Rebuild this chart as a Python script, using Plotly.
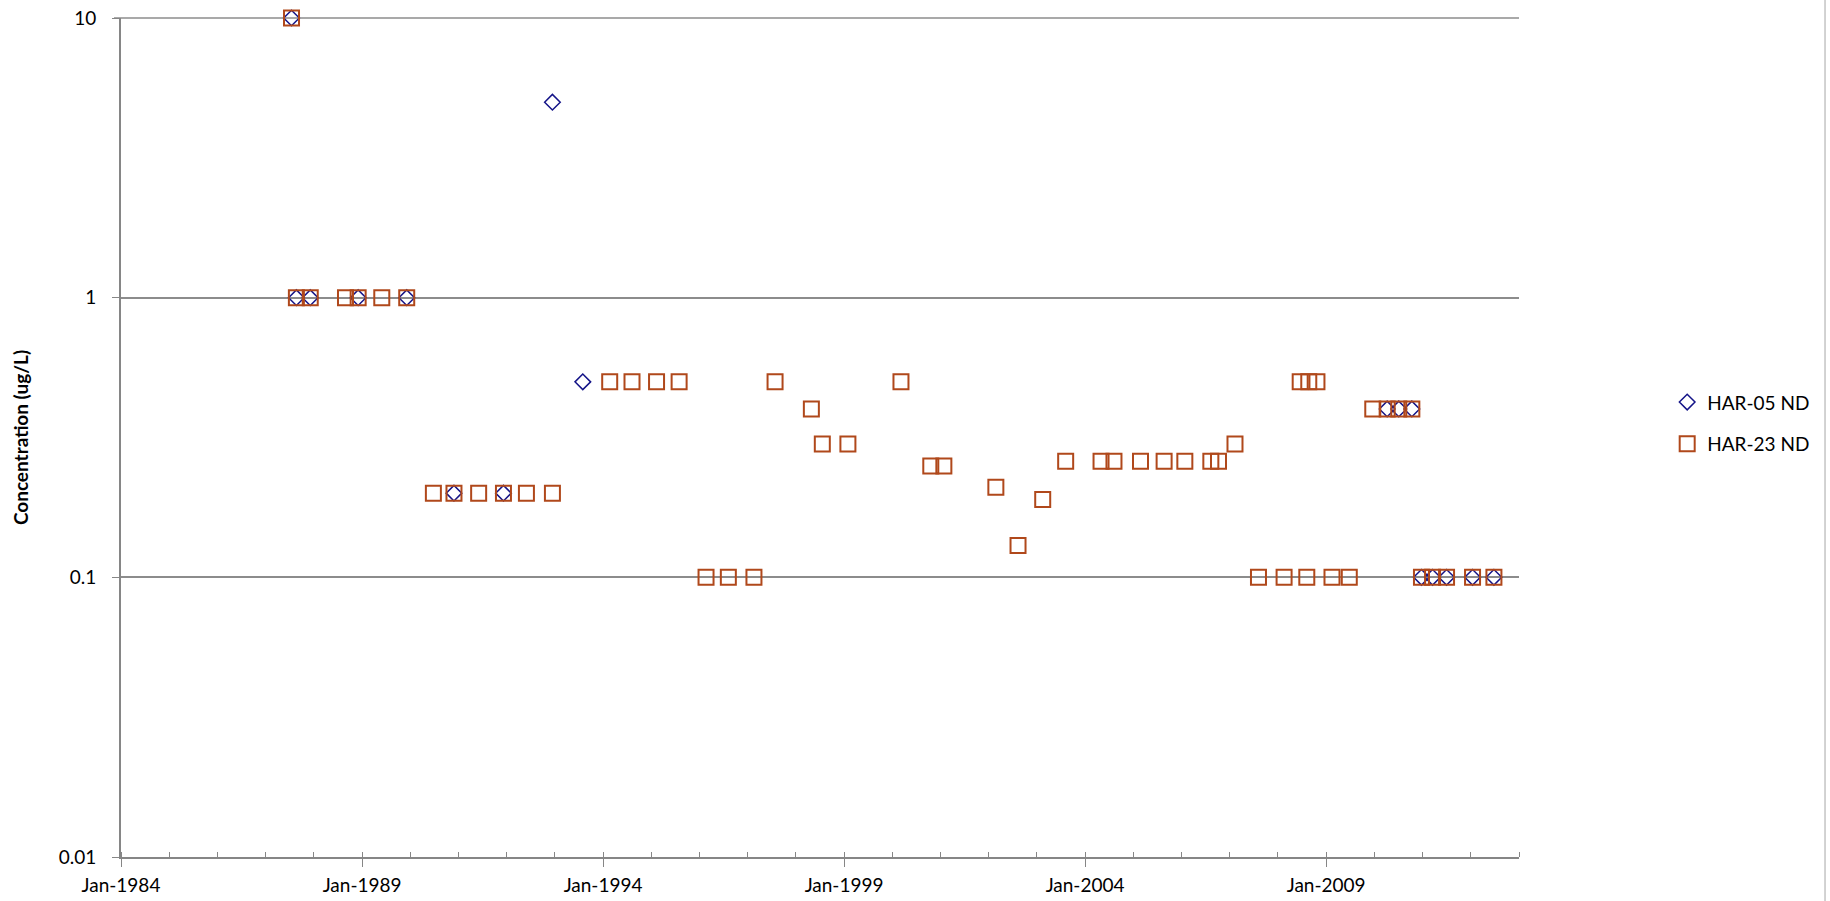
import plotly.graph_objects as go

# HAR-05 non-detects (diamonds)
har05_dates = ['1987-07-16', '1987-08-22', '1987-12-05', '1988-12-02', '1989-12-05',
               '1990-11-28', '1991-12-08', '1992-12-13', '1993-07-31',
               '2010-04-08', '2010-07-05', '2010-10-12', '2010-12-24', '2011-03-18',
               '2011-07-02', '2012-01-15', '2012-06-25']
har05_vals = [10, 1, 1, 1, 1,
              0.2, 0.2, 5, 0.5,
              0.4, 0.4, 0.4, 0.1, 0.1,
              0.1, 0.1, 0.1]

# HAR-23 non-detects (squares)
har23_dates = ['1987-07-16', '1987-08-22', '1987-12-05', '1988-08-28', '1988-12-02',
               '1989-05-30', '1989-12-05', '1990-06-25', '1990-11-28', '1991-06-03',
               '1991-12-08', '1992-05-30', '1992-12-13', '1994-02-20', '1994-08-08',
               '1995-02-10', '1995-07-31', '1996-02-20', '1996-08-07', '1997-02-17',
               '1997-07-27', '1998-04-28', '1998-07-20', '1999-01-30', '2000-03-07',
               '2000-10-19', '2001-01-26', '2002-02-24', '2002-08-11', '2003-02-14',
               '2003-08-07', '2004-05-01', '2004-08-07', '2005-02-24', '2005-08-22',
               '2006-01-26', '2006-08-11', '2006-10-08', '2007-02-10', '2007-08-07',
               '2008-02-17', '2008-06-18', '2008-08-07', '2008-08-22', '2008-10-23',
               '2009-02-14', '2009-06-25', '2009-12-20', '2010-04-08', '2010-07-05',
               '2010-10-12', '2010-12-24', '2011-03-18', '2011-07-02', '2012-01-15',
               '2012-06-25']
har23_vals = [10, 1, 1, 1, 1,
              1, 1, 0.2, 0.2, 0.2,
              0.2, 0.2, 0.2, 0.5, 0.5,
              0.5, 0.5, 0.1, 0.1, 0.1,
              0.5, 0.4, 0.3, 0.3, 0.5,
              0.25, 0.25, 0.21, 0.13, 0.19,
              0.26, 0.26, 0.26, 0.26, 0.26,
              0.26, 0.26, 0.26, 0.3, 0.1,
              0.1, 0.5, 0.1, 0.5, 0.5,
              0.1, 0.1, 0.4, 0.4, 0.4,
              0.4, 0.1, 0.1, 0.1, 0.1,
              0.1]

y_tickvals = [0.01, 0.1, 1, 10]
y_ticktext = ['0.01', '0.1', '1', '10']

FONT = 'Lato, "Open Sans", Arial, sans-serif'
AXIS_GRAY = '#868686'
GRID_GRAY = '#8c8c8c'

fig = go.Figure()
fig.add_trace(go.Scatter(x=har05_dates, y=har05_vals, mode='markers',
                         name='HAR-05 ND', legendgroup='a', cliponaxis=False,
                         marker=dict(symbol='diamond-open', size=12,
                                     color='#141488',
                                     line=dict(color='#141488', width=1.5))))
fig.add_trace(go.Scatter(x=har23_dates, y=har23_vals, mode='markers',
                         name='HAR-23 ND', legendgroup='b', cliponaxis=False,
                         marker=dict(symbol='square-open', size=15,
                                     color='#B0481B',
                                     line=dict(color='#B0481B', width=2))))

# top gridline (plotly skips the one on the range edge) and chart border at right
fig.add_shape(type='line', xref='paper', yref='paper', layer='below',
              x0=-0.005, x1=1, y0=1, y1=1,
              line=dict(color=GRID_GRAY, width=1.5))
fig.add_shape(type='line', xref='paper', yref='paper',
              x0=1.2189, x1=1.2189, y0=-0.06, y1=1.03,
              line=dict(color='#a6a6a6', width=1))

fig.update_layout(
    width=1830, height=901,
    margin=dict(l=121, r=311, t=18, b=44),
    paper_bgcolor='white', plot_bgcolor='white',
    font=dict(family=FONT, size=19, color='black'),
    showlegend=True,
    legend=dict(x=1.106, xanchor='left', y=0.517, yanchor='middle',
                font=dict(family=FONT, size=19, color='black'),
                itemwidth=30, tracegroupgap=14, traceorder='grouped',
                bgcolor='rgba(0,0,0,0)'),
    xaxis=dict(type='date', range=['1984-01-01', '2013-01-01'],
               tick0='1984-01-01', dtick='M60', tickformat='%b-%Y',
               automargin=False, ticklabeloverflow='allow',
               showgrid=False, zeroline=False,
               showline=True, linecolor=AXIS_GRAY, linewidth=2,
               ticks='outside', ticklen=8, tickwidth=1, tickcolor=AXIS_GRAY,
               ticklabelstandoff=2,
               minor=dict(dtick='M12', tick0='1984-01-01', ticks='inside',
                          ticklen=5, tickwidth=1, tickcolor=AXIS_GRAY,
                          showgrid=False),
               tickfont=dict(family=FONT, size=19, color='black')),
    yaxis=dict(type='log', range=[-2, 1],
               tickvals=y_tickvals, ticktext=y_ticktext,
               automargin=False, ticklabeloverflow='allow',
               showgrid=True, gridcolor=GRID_GRAY, gridwidth=1.5,
               zeroline=False,
               showline=True, linecolor=AXIS_GRAY, linewidth=2,
               ticks='outside', ticklen=7, tickwidth=1, tickcolor=AXIS_GRAY,
               ticklabelstandoff=12,
               tickfont=dict(family=FONT, size=19, color='black'),
               title=dict(text='<b>Concentration (ug/L)</b>', standoff=25,
                          font=dict(family=FONT, size=19, color='black'))),
)

# drop the browser's default 8px body margin so the figure fills the window
fig.write_html('out.html',
               config={'displayModeBar': False},
               post_script="document.body.style.margin='0';"
                           "document.body.style.overflow='hidden';")
